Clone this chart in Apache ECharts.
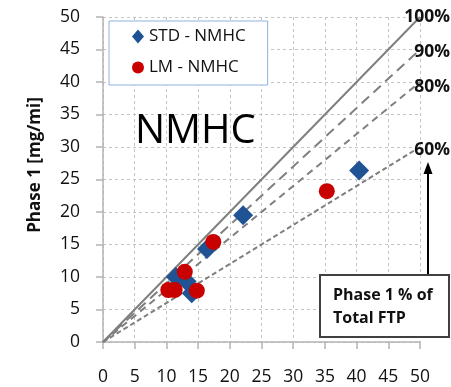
<!DOCTYPE html>
<html><head><meta charset="utf-8">
<script src="https://cdn.jsdelivr.net/npm/echarts@6/dist/echarts.min.js"></script>
<style>html,body{margin:0;padding:0;background:#fff}#c{width:451px;height:387px}</style>
</head><body><div id="c"></div>
<script>
var axisTicks = [0,5,10,15,20,25,30,35,40,45,50];
var stdX = [22.1, 16.4, 11.5, 13.2, 14.0, 40.4];
var stdY = [19.5, 14.3, 10.0, 9.3, 7.5, 26.4];
var lmX = [17.4, 12.9, 10.3, 11.3, 14.8, 35.3];
var lmY = [15.4, 10.8, 8.0, 8.0, 7.9, 23.2];
var ratios = [1.0, 0.9, 0.8, 0.6];
var ratioLabels = ['100%', '90%', '80%', '60%'];
var ratioDash = ['solid', [10,6], [7,5], [5,3]];
var FONT = 'Open Sans';

var chart = echarts.init(document.getElementById('c'));
var series = [];
ratios.forEach(function(r, i){
  series.push({
    type: 'line', silent: true, symbol: 'none', z: 1,
    data: [[0,0],[50, 50*r]],
    lineStyle: {color: '#7f7f7f', width: 2, type: ratioDash[i]}
  });
});
series.push({
  name: 'STD - NMHC', type: 'scatter', symbol: 'diamond', symbolSize: 20, z: 3,
  itemStyle: {color: '#1f5394', opacity: 1},
  data: stdX.map(function(x,i){return [x, stdY[i]];})
});
series.push({
  name: 'LM - NMHC', type: 'scatter', symbol: 'circle', symbolSize: 16, z: 4,
  itemStyle: {color: '#c80000', opacity: 1},
  data: lmX.map(function(x,i){return [x, lmY[i]];})
});

var gridStyle = {show: true, lineStyle: {color: '#c4c4c4', type: [3,3], width: 1}};
var axisLineStyle = {show: true, lineStyle: {color: '#b4b4b4', width: 1.5}};
var tickStyle = {show: true, inside: false, length: 7, lineStyle: {color: '#b4b4b4', width: 1.5}};

chart.setOption({
  animation: false,
  grid: {left: 103, right: 31, top: 17, bottom: 45},
  xAxis: {
    type: 'value', min: 0, max: 50, interval: 5,
    axisLine: axisLineStyle, axisTick: tickStyle, splitLine: gridStyle,
    axisLabel: {fontFamily: FONT, fontSize: 17.5, color: '#111', margin: 26}
  },
  yAxis: {
    type: 'value', min: 0, max: 50, interval: 5,
    axisLine: axisLineStyle, axisTick: tickStyle, splitLine: gridStyle,
    axisLabel: {fontFamily: FONT, fontSize: 17.5, color: '#111', margin: 23}
  },
  legend: {
    orient: 'vertical', left: 109, top: 21,
    data: [{name: 'STD - NMHC', icon: 'diamond'}, {name: 'LM - NMHC', icon: 'circle'}],
    itemWidth: 12, itemHeight: 14, itemGap: 14,
    padding: [7, 22, 9, 23],
    backgroundColor: '#fff', borderColor: '#8db3e2', borderWidth: 1, borderRadius: 0,
    textStyle: {fontFamily: FONT, fontSize: 17, color: '#111', lineHeight: 14}
  },
  series: series,
  graphic: [
    {type: 'text', x: 35, y: 165, rotation: Math.PI/2, z: 10, style: {text: 'Phase 1 [mg/mi]', font: 'bold 17px "Open Sans"', fill: '#111', textAlign: 'center', textVerticalAlign: 'middle'}},
    {type: 'text', left: 135, top: 112, z: 10, style: {text: 'NMHC', font: '40px "Open Sans"', fill: '#000'}},
    {type: 'text', x: 450, y: 17, z: 10, style: {text: ratioLabels[0], font: 'bold 17.5px "Open Sans"', fill: '#111', textAlign: 'right', textVerticalAlign: 'middle'}},
    {type: 'text', x: 450, y: 52, z: 10, style: {text: ratioLabels[1], font: 'bold 17.5px "Open Sans"', fill: '#111', textAlign: 'right', textVerticalAlign: 'middle'}},
    {type: 'text', x: 450, y: 87, z: 10, style: {text: ratioLabels[2], font: 'bold 17.5px "Open Sans"', fill: '#111', textAlign: 'right', textVerticalAlign: 'middle'}},
    {type: 'text', x: 450, y: 150, z: 10, style: {text: ratioLabels[3], font: 'bold 17.5px "Open Sans"', fill: '#111', textAlign: 'right', textVerticalAlign: 'middle'}},
    {type: 'line', z: 10, shape: {x1: 428, y1: 274, x2: 428, y2: 172}, style: {stroke: '#000', lineWidth: 2}},
    {type: 'polygon', z: 10, shape: {points: [[428,162],[423.5,174],[432.5,174]]}, style: {fill: '#000'}},
    {type: 'rect', z: 10, shape: {x: 320, y: 275, width: 129, height: 62}, style: {fill: '#fff', stroke: '#404040', lineWidth: 2}},
    {type: 'text', x: 333, y: 295, z: 11, style: {text: 'Phase 1 % of', font: 'bold 16px "Open Sans"', fill: '#111', textVerticalAlign: 'middle'}},
    {type: 'text', x: 333, y: 318, z: 11, style: {text: 'Total FTP', font: 'bold 16px "Open Sans"', fill: '#111', textVerticalAlign: 'middle'}}
  ]
});
</script>
</body></html>
